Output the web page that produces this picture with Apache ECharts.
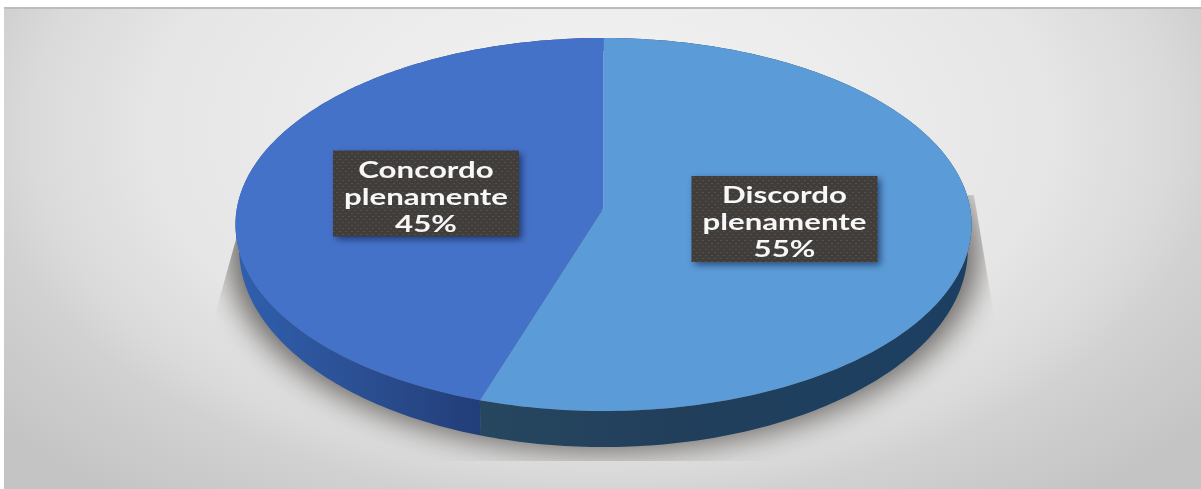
<!DOCTYPE html>
<html>
<head>
<meta charset="utf-8">
<style>html,body{margin:0;padding:0;background:#fff}#chart{width:1201px;height:489px}</style>
<script src="https://cdn.jsdelivr.net/npm/echarts@6/dist/echarts.min.js"></script>
</head>
<body>
<div id="chart"></div>
<script>
// Slice data, clockwise from twelve o'clock
const categories = ['Discordo plenamente', 'Concordo plenamente'];
const shares = [55, 45];
const topColors = ['#5b9bd7', '#4572c9'];
const labelCentres = [[784.5, 219], [426, 193.5]];

// Disc viewed in perspective: the hub sits above the middle of the rim ellipse
const disc = { cx: 603.5, hubY: 208, yGain: 185.04, xGain: 366.6, tilt: -0.0885 };
const rim = { cy: 224.5, widthRatio: 0.99, heightRatio: 1.062, cyLower: 249 };

function topPoint(a) {
  const u = Math.sin(a), v = -Math.cos(a), w = 1 + disc.tilt * v;
  return [disc.cx + disc.xGain * u / w, disc.hubY + disc.yGain * v / w];
}
function lowerPoint(a) {
  const p = topPoint(a);
  return [disc.cx + (p[0] - disc.cx) * rim.widthRatio, rim.cyLower + (p[1] - rim.cy) * rim.heightRatio];
}
function arc(fn, from, to) {
  const n = Math.max(8, Math.ceil(Math.abs(to - from) * 60)), pts = [];
  for (let i = 0; i <= n; i++) pts.push(fn(from + (to - from) * i / n));
  return pts;
}
const total = shares.reduce((a, b) => a + b, 0);
function sliceRange(i) {
  const before = shares.slice(0, i).reduce((a, b) => a + b, 0);
  return [before / total * Math.PI * 2, (before + shares[i]) / total * Math.PI * 2];
}

// Fine dot texture behind the label text
const dots = document.createElement('canvas');
dots.width = dots.height = 6;
const dc = dots.getContext('2d');
dc.fillStyle = '#403d3b';
dc.fillRect(0, 0, 6, 6);
dc.fillStyle = '#544f4a';
dc.fillRect(0, 0, 2, 1);
dc.fillRect(3, 3, 2, 1);

const wallFills = [
  { type: 'linear', x: 480, y: 0, x2: 970, y2: 0, global: true,
    colorStops: [{ offset: 0, color: '#27465f' }, { offset: 0.4, color: '#213f5b' }, { offset: 1, color: '#1c3f62' }] },
  { type: 'linear', x: 240, y: 0, x2: 482, y2: 0, global: true,
    colorStops: [{ offset: 0, color: '#2f5fae' }, { offset: 0.5, color: '#2b4f92' }, { offset: 1, color: '#223d78' }] }
];

const data = shares.map((v, i) => ({ name: categories[i], value: v }));
const custom = (z, renderItem) => ({
  type: 'custom', coordinateSystem: 'none', z, silent: true, clip: false, animation: false, data, renderItem
});

// The shadow caster is parked off-canvas so that only its blur lands on the panel
const casterShift = 3000;

const option = {
  animation: false,
  graphic: [
    { type: 'rect', x: 4, y: 7, scaleY: 0.6, z: -2, silent: true,
      shape: { x: 0, y: 0, width: 1197, height: 804 },
      style: { fill: { type: 'radial', x: 596, y: 205, r: 780, global: true, colorStops: [
        { offset: 0, color: '#f4f4f4' }, { offset: 0.57, color: '#e6e6e6' }, { offset: 0.73, color: '#dadada' },
        { offset: 0.8, color: '#d1d1d1' }, { offset: 1, color: '#c4c4c4' }] } } },
    { type: 'rect', z: -1, silent: true, shape: { x: 4, y: 7, width: 1197, height: 2 }, style: { fill: '#bcbcbc' } }
  ],
  series: [
    // Soft cast shadow, cut off along the flared sides and at its base
    custom(2, (params) => {
      if (params.dataIndex !== 0) return null;
      const spread = a => {
        const q = lowerPoint(a);
        return [disc.cx + (q[0] - disc.cx) * 1.03 - casterShift, q[1] + 4];
      };
      return {
        type: 'group',
        clipPath: { type: 'polygon', shape: { points: [[240, 225], [213, 322], [213, 461], [995, 461], [995, 322], [974, 195]] } },
        children: [{
          type: 'polygon',
          shape: { points: arc(spread, 0, Math.PI * 2) },
          style: { fill: '#000', shadowBlur: 30, shadowColor: 'rgba(98,95,92,0.95)', shadowOffsetX: casterShift }
        }]
      };
    }),
    // Rim wall of each slice
    custom(3, (params) => {
      const [a, b] = sliceRange(params.dataIndex);
      return {
        type: 'polygon',
        shape: { points: arc(topPoint, a, b).concat(arc(lowerPoint, b, a)) },
        style: { fill: wallFills[params.dataIndex] }
      };
    }),
    // Top face of each slice
    custom(4, (params) => {
      const [a, b] = sliceRange(params.dataIndex);
      return {
        type: 'polygon',
        shape: { points: [[disc.cx, disc.hubY]].concat(arc(topPoint, a, b)) },
        style: { fill: topColors[params.dataIndex] }
      };
    }),
    // Dark label plate with name and percentage
    custom(5, (params) => {
      const i = params.dataIndex, [cx, cy] = labelCentres[i];
      const text = categories[i].replace(' ', '\n') + '\n' + shares[i] + '%';
      return {
        type: 'group',
        children: [
          { type: 'rect', shape: { x: cx - 93, y: cy - 43, width: 186, height: 86 },
            style: { fill: { image: dots, repeat: 'repeat' }, shadowBlur: 7, shadowOffsetX: 3, shadowOffsetY: 3, shadowColor: 'rgba(10,25,60,0.6)' } },
          { type: 'text', x: cx, y: cy + 4, scaleX: 1.42,
            style: { text, fill: '#f7f7f7', align: 'center', verticalAlign: 'middle', lineHeight: 27,
              font: 'bold 22px Lato' } }
        ]
      };
    })
  ]
};
const chart = echarts.init(document.getElementById('chart'), null, { renderer: 'canvas', width: 1201, height: 489 });
chart.setOption(option);
</script>
</body>
</html>
